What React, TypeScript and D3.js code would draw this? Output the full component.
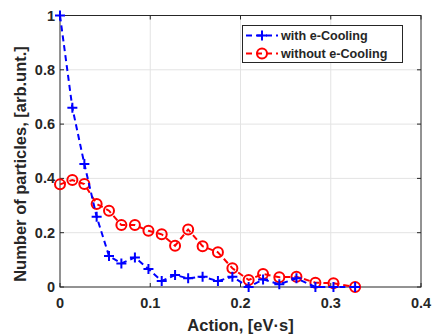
import React, { useEffect, useRef } from 'react';
import * as d3 from 'd3';

const action = [0, 0.0137, 0.027, 0.0406, 0.0543, 0.068, 0.083, 0.098, 0.1127, 0.1275, 0.142, 0.158, 0.175, 0.191, 0.209, 0.225, 0.243, 0.262, 0.283, 0.303, 0.327];
const withCooling = [1.0, 0.66, 0.453, 0.259, 0.114, 0.087, 0.109, 0.066, 0.022, 0.044, 0.032, 0.038, 0.022, 0.038, 0.0, 0.028, 0.01, 0.032, 0.0, 0.0, 0.0];
const withoutCooling = [0.378, 0.394, 0.379, 0.306, 0.281, 0.228, 0.228, 0.207, 0.194, 0.152, 0.212, 0.15, 0.128, 0.069, 0.026, 0.048, 0.036, 0.038, 0.016, 0.014, 0.0];
const xTicks = [0, 0.1, 0.2, 0.3, 0.4];
const yTicks = [0, 0.2, 0.4, 0.6, 0.8, 1];
const seriesNames = ['with e-Cooling', 'without e-Cooling'];

const W = 432;
const H = 334;
const FONT = 'Liberation Sans, Arial, sans-serif';

const App: React.FC = () => {
  const ref = useRef<SVGSVGElement>(null);

  useEffect(() => {
    if (!ref.current) return;
    const svg = d3.select(ref.current);
    svg.selectAll('*').remove();

    const left = 60, right = 421, top = 15.5, bottom = 287;
    const x = d3.scaleLinear().domain([0, 0.4]).range([left, right]);
    const y = d3.scaleLinear().domain([0, 1]).range([bottom, top]);

    svg.append('rect').attr('width', W).attr('height', H).attr('fill', '#fff');

    // grid
    const grid = svg.append('g').attr('stroke', '#e3e3e3').attr('stroke-width', 1);
    xTicks.slice(1, -1).forEach(t => {
      grid.append('line').attr('x1', x(t)).attr('x2', x(t)).attr('y1', top).attr('y2', bottom);
    });
    yTicks.slice(1, -1).forEach(t => {
      grid.append('line').attr('x1', left).attr('x2', right).attr('y1', y(t)).attr('y2', y(t));
    });

    // axes box
    svg.append('rect')
      .attr('x', left).attr('y', top)
      .attr('width', right - left).attr('height', bottom - top)
      .attr('fill', 'none').attr('stroke', '#262626').attr('stroke-width', 1);

    const ax = svg.append('g').attr('stroke', '#262626');
    xTicks.forEach(t => {
      ax.append('line').attr('x1', x(t)).attr('x2', x(t)).attr('y1', bottom).attr('y2', bottom - 4);
      ax.append('line').attr('x1', x(t)).attr('x2', x(t)).attr('y1', top).attr('y2', top + 4);
    });
    yTicks.forEach(t => {
      ax.append('line').attr('x1', left).attr('x2', left + 4).attr('y1', y(t)).attr('y2', y(t));
      ax.append('line').attr('x1', right).attr('x2', right - 4).attr('y1', y(t)).attr('y2', y(t));
    });

    const labels = svg.append('g')
      .attr('font-family', FONT).attr('font-weight', 'bold')
      .attr('font-size', 14.5).attr('fill', '#262626');
    xTicks.forEach(t => {
      labels.append('text').attr('x', x(t)).attr('y', bottom + 21)
        .attr('text-anchor', 'middle').text(String(t));
    });
    yTicks.forEach(t => {
      labels.append('text').attr('x', left - 5).attr('y', y(t)).attr('dy', '0.35em')
        .attr('text-anchor', 'end').text(String(t));
    });

    labels.append('text')
      .attr('x', (left + right) / 2).attr('y', 331)
      .attr('text-anchor', 'middle').attr('font-size', 16.5)
      .text('Action, [eV·s]');
    labels.append('text')
      .attr('transform', `translate(26,164) rotate(-90)`)
      .attr('text-anchor', 'middle').attr('font-size', 16.5)
      .text('Number of particles, [arb.unt.]');

    const line = d3.line<number>()
      .x((_, i) => x(action[i]))
      .y(d => y(d));

    // red series
    svg.append('path').datum(withoutCooling)
      .attr('fill', 'none').attr('stroke', '#ff0000').attr('stroke-width', 2)
      .attr('stroke-dasharray', '6,4').attr('d', line);
    svg.append('g').selectAll('circle').data(withoutCooling).enter().append('circle')
      .attr('cx', (_, i) => x(action[i])).attr('cy', d => y(d)).attr('r', 5)
      .attr('fill', 'none').attr('stroke', '#ff0000').attr('stroke-width', 2);

    // blue series
    svg.append('path').datum(withCooling)
      .attr('fill', 'none').attr('stroke', '#0000ff').attr('stroke-width', 2)
      .attr('stroke-dasharray', '6,4').attr('d', line);
    svg.append('g').selectAll('path').data(withCooling).enter().append('path')
      .attr('d', 'M-5,0H5M0,-5V5')
      .attr('transform', (d, i) => `translate(${x(action[i])},${y(d)})`)
      .attr('fill', 'none').attr('stroke', '#0000ff').attr('stroke-width', 2);

    // legend
    const lg = svg.append('g');
    lg.append('rect').attr('x', 242.5).attr('y', 25.5).attr('width', 160).attr('height', 37)
      .attr('fill', '#fff').attr('stroke', '#262626').attr('stroke-width', 1);
    const colors = ['#0000ff', '#ff0000'];
    seriesNames.forEach((name, i) => {
      const cy = 35.5 + i * 18;
      lg.append('line').attr('x1', 246).attr('x2', 278).attr('y1', cy).attr('y2', cy)
        .attr('stroke', colors[i]).attr('stroke-width', 2).attr('stroke-dasharray', '6,4');
      if (i === 0) {
        lg.append('path').attr('d', 'M-5,0H5M0,-5V5').attr('transform', `translate(262,${cy})`)
          .attr('stroke', colors[i]).attr('stroke-width', 2).attr('fill', 'none');
      } else {
        lg.append('circle').attr('cx', 262).attr('cy', cy).attr('r', 5)
          .attr('stroke', colors[i]).attr('stroke-width', 2).attr('fill', 'none');
      }
      lg.append('text').attr('x', 281).attr('y', cy).attr('dy', '0.35em')
        .attr('font-family', FONT).attr('font-weight', 'bold').attr('font-size', 12.6)
        .attr('fill', '#262626').text(name);
    });
  }, []);

  return (
    <svg ref={ref} width={W} height={H}
      style={{ position: 'absolute', left: 0, top: 0, display: 'block' }} />
  );
};

export default App;
